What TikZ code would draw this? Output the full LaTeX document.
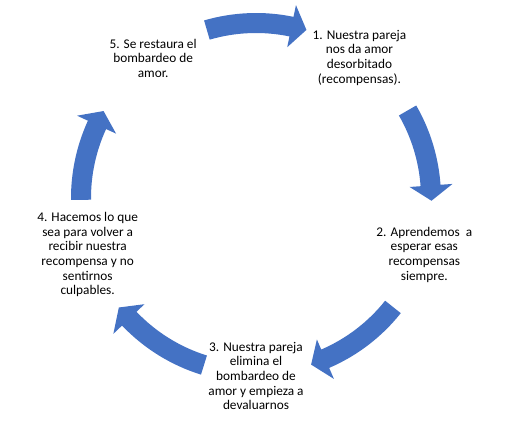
\documentclass[tikz,border=0pt]{standalone}
\usepackage{fontspec}
\setmainfont{Carlito}
\usepackage{xcolor}
\usepackage{tikz}

\definecolor{cycleblue}{HTML}{4472C4}

\begin{document}
\begin{tikzpicture}[
    stage/.style={align=center, inner sep=0pt, yshift=-2pt, text=black, font=\fontsize{13.3}{14.6}\selectfont},
    cyclearrow/.style={fill=cycleblue, draw=none}
]
\useasboundingbox (-256pt,-232pt) rectangle (258pt,198pt);

\coordinate (hub) at (0,0);

% the five stages around the cycle
\node[stage] (S1) at (54:176pt) {1. Nuestra pareja\\nos da amor\\desorbitado\\(recompensas).};
\node[stage] (S2) at (-18:177pt) {2. Aprendemos\ \ a\\esperar esas\\recompensas\\siempre.};
\node[stage] (S3) at (-90:176pt) {3. Nuestra pareja\\elimina el\\bombardeo de\\amor y empieza a\\devaluarnos};
\node[stage] (S4) at (198:177pt) {4. Hacemos lo que\\sea para volver a\\recibir nuestra\\recompensa y no\\sentirnos\\culpables.};
\node[stage] (S5) at (126:175pt) {5. Se restaura el\\bombardeo de\\amor.};

% curved arrows between the stages
\fill[cyclearrow] (106.3:185pt) arc[start angle=106.3, end angle=78.3, radius=185pt] -- (78.3:197pt) -- (73.3:175.5pt) -- (78.3:154pt) -- (78.3:165pt) arc[start angle=78.3, end angle=106.3, radius=165pt] -- cycle;
\fill[cyclearrow] (30:185pt) arc[start angle=30, end angle=4.1, radius=185pt] -- (4.1:197pt) -- (-0.9:175.5pt) -- (4.1:154pt) -- (4.1:165pt) arc[start angle=4.1, end angle=30, radius=165pt] -- cycle;
\fill[cyclearrow] (-38.5:185pt) arc[start angle=-38.5, end angle=-66.7, radius=185pt] -- (-66.7:197pt) -- (-71.7:175.5pt) -- (-66.7:154pt) -- (-66.7:165pt) arc[start angle=-66.7, end angle=-38.5, radius=165pt] -- cycle;
\fill[cyclearrow] (-107.3:185pt) arc[start angle=-107.3, end angle=-136.4, radius=185pt] -- (-136.4:197pt) -- (-141.4:175.5pt) -- (-136.4:154pt) -- (-136.4:165pt) arc[start angle=-136.4, end angle=-107.3, radius=165pt] -- cycle;
\fill[cyclearrow] (180.6:185pt) arc[start angle=180.6, end angle=155.3, radius=185pt] -- (155.3:197pt) -- (150.3:175.5pt) -- (155.3:154pt) -- (155.3:165pt) arc[start angle=155.3, end angle=180.6, radius=165pt] -- cycle;

\end{tikzpicture}
\end{document}
